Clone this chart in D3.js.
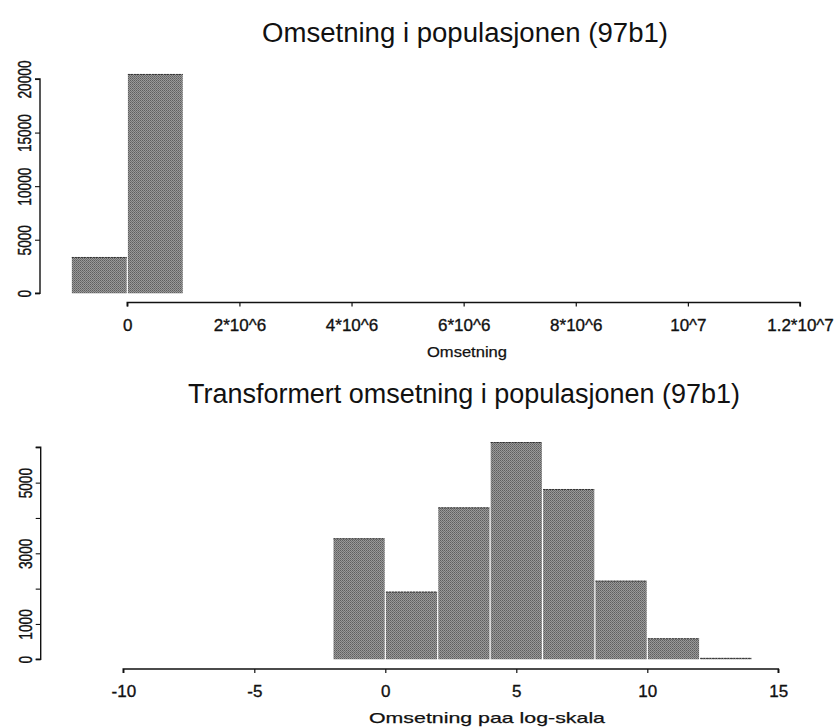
<!DOCTYPE html>
<html>
<head>
<meta charset="utf-8">
<script src="https://cdn.jsdelivr.net/npm/d3@7"></script>
<style>
  html, body { margin: 0; padding: 0; background: #fff; }
  svg { display: block; }
  text { font-family: "Liberation Sans", Arial, Helvetica, sans-serif; fill: #111; }
</style>
</head>
<body>
<svg id="chart" width="835" height="728"></svg>
<script>
// ---- Data ----
// Top histogram: raw turnover, bin width 1e6
const topBinStarts = [-1e6, 0];
const topBinWidth = 1e6;
const topCounts = [3390, 20470];
const topXTicks = [0, 2e6, 4e6, 6e6, 8e6, 1e7, 1.2e7];
const topXTickLabels = ["0", "2*10^6", "4*10^6", "6*10^6", "8*10^6", "10^7", "1.2*10^7"];
const topYTicks = [0, 5000, 10000, 15000, 20000];

// Bottom histogram: log turnover, bin width 2
const botBinStarts = [-2, 0, 2, 4, 6, 8, 10, 12];
const botBinWidth = 2;
const botCounts = [3425, 1915, 4300, 6150, 4820, 2225, 595, 40];
const botXTicks = [-10, -5, 0, 5, 10, 15];
const botXTickLabels = ["-10", "-5", "0", "5", "10", "15"];
const botYTicks = [0, 1000, 2000, 3000, 4000, 5000, 6000];
const botYTickLabels = ["0", "1000", "", "3000", "", "5000", ""];

const titles = ["Omsetning i populasjonen (97b1)", "Transformert omsetning i populasjonen (97b1)"];
const xTitles = ["Omsetning", "Omsetning paa log-skala"];

const svg = d3.select("#chart");

// halftone-like fill
const defs = svg.append("defs");
const pat = defs.append("pattern").attr("id", "ht").attr("patternUnits", "userSpaceOnUse")
  .attr("width", 2).attr("height", 2);
pat.append("rect").attr("width", 2).attr("height", 2).attr("fill", "#999999");
pat.append("rect").attr("width", 1).attr("height", 1).attr("fill", "#5e5e5e");
pat.append("rect").attr("x", 1).attr("y", 1).attr("width", 1).attr("height", 1).attr("fill", "#707070");

function panel(cfg) {
  const x = d3.scaleLinear().domain(cfg.xDomain).range(cfg.xRange);
  const y = d3.scaleLinear().domain(cfg.yDomain).range(cfg.yRange);
  const g = svg.append("g");
  const bins = cfg.starts.map((s, i) => ({ s, c: cfg.counts[i] }));

  // bars
  g.selectAll("rect.bar").data(bins)
    .enter().append("rect").attr("class", "bar")
    .attr("x", d => x(d.s) + 0.6)
    .attr("width", d => x(d.s + cfg.binWidth) - x(d.s) - 1.2)
    .attr("y", d => y(d.c))
    .attr("height", d => Math.max(1.2, y(0) - y(d.c)))
    .attr("fill", "url(#ht)");
  // darker top edges
  g.selectAll("line.top").data(bins)
    .enter().append("line")
    .attr("x1", d => x(d.s) + 0.6).attr("x2", d => x(d.s + cfg.binWidth) - 0.6)
    .attr("y1", d => y(d.c) + 0.5).attr("y2", d => y(d.c) + 0.5)
    .attr("stroke", "#333").attr("stroke-width", 1).attr("stroke-dasharray", "2,1");

  // x axis
  const xAxis = d3.axisBottom(x).tickValues(cfg.xTicks).tickSize(4).tickPadding(12)
    .tickFormat((d, i) => cfg.xTickLabels[i]);
  const xa = g.append("g").attr("transform", `translate(0,${cfg.xAxisY})`).call(xAxis);
  xa.select(".domain").attr("stroke", "#111").attr("stroke-width", 1.6)
    .attr("d", `M${x(cfg.xTicks[0])},4V0H${x(cfg.xTicks[cfg.xTicks.length - 1])}V4`);
  xa.selectAll(".tick line").attr("stroke", "#111").attr("stroke-width", 1.2);
  xa.selectAll(".tick text").attr("font-size", 17).attr("fill", "#111")
    .attr("stroke", "#111").attr("stroke-width", 0.35)
    .attr("font-family", "'Liberation Sans',Arial,sans-serif");

  // y axis
  const yAxis = d3.axisLeft(y).tickValues(cfg.yTicks).tickSize(5).tickPadding(0)
    .tickFormat((d, i) => cfg.yTickLabels ? cfg.yTickLabels[i] : String(d));
  const ya = g.append("g").attr("transform", `translate(${cfg.yAxisX},0)`).call(yAxis);
  ya.select(".domain").attr("stroke", "#111").attr("stroke-width", 1.4)
    .attr("d", `M-5,${y(cfg.yTicks[0])}H0V${y(cfg.yTicks[cfg.yTicks.length - 1])}H-5`);
  ya.selectAll(".tick line").attr("stroke", "#111").attr("stroke-width", 1.1);
  ya.selectAll(".tick text")
    .attr("x", null).attr("dy", null).attr("y", 0)
    .attr("text-anchor", "middle").attr("font-size", 18).attr("fill", "#111")
    .attr("stroke", "#111").attr("stroke-width", 0.4)
    .attr("transform", "translate(-9,0) scale(1,0.76) rotate(-90)");

  // title
  g.append("text").attr("x", cfg.titleX).attr("y", cfg.titleY)
    .attr("text-anchor", "middle").attr("font-size", 27)
    .attr("textLength", cfg.titleW).attr("lengthAdjust", "spacingAndGlyphs")
    .text(cfg.title);
  // x label
  g.append("text").attr("x", cfg.xlabX).attr("y", cfg.xlabY)
    .attr("text-anchor", "middle").attr("font-size", 15)
    .attr("stroke", "#111").attr("stroke-width", 0.25)
    .attr("textLength", cfg.xlabW).attr("lengthAdjust", "spacingAndGlyphs")
    .text(cfg.xlab);
}

panel({
  xDomain: [0, 1.2e7], xRange: [127.3, 800],
  yDomain: [0, 20000], yRange: [293.3, 79],
  starts: topBinStarts, binWidth: topBinWidth, counts: topCounts,
  xTicks: topXTicks, xTickLabels: topXTickLabels,
  yTicks: topYTicks, yTickLabels: null,
  xAxisY: 302.5, yAxisX: 40,
  title: titles[0], titleX: 465, titleY: 42, titleW: 406,
  xlab: xTitles[0], xlabX: 467, xlabY: 357, xlabW: 80
});

panel({
  xDomain: [-10, 15], xRange: [123.3, 778.3],
  yDomain: [0, 6000], yRange: [659.3, 447.3],
  starts: botBinStarts, binWidth: botBinWidth, counts: botCounts,
  xTicks: botXTicks, xTickLabels: botXTickLabels,
  yTicks: botYTicks, yTickLabels: botYTickLabels,
  xAxisY: 669, yAxisX: 40.7,
  title: titles[1], titleX: 464, titleY: 402.7, titleW: 552,
  xlab: xTitles[1], xlabX: 487, xlabY: 723, xlabW: 236
});
</script>
</body>
</html>
